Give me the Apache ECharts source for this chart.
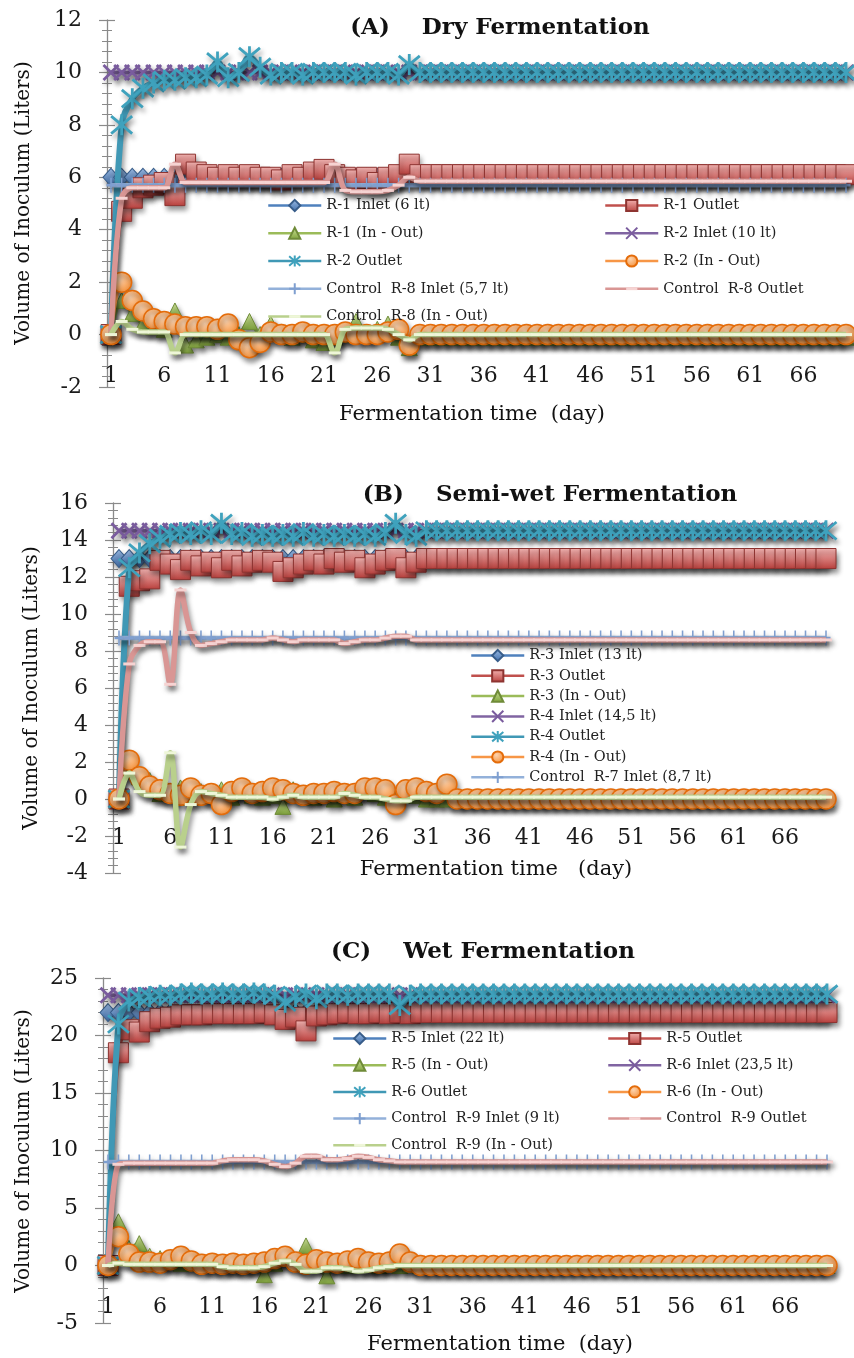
<!DOCTYPE html>
<html><head><meta charset="utf-8">
<script src="https://cdn.jsdelivr.net/npm/echarts@6/dist/echarts.min.js"></script>
<style>html,body{margin:0;padding:0;background:#fff}#c{width:854px;height:1358px}</style>
</head><body><div id="c"></div>
<script>
// ---------------- DATA ----------------
const days = [1,2,3,4,5,6,7,8,9,10,11,12,13,14,15,16,17,18,19,20,21,22,23,24,25,26,27,28,29,30,31,32,33,34,35,36,37,38,39,40,41,42,43,44,45,46,47,48,49,50,51,52,53,54,55,56,57,58,59,60,61,62,63,64,65,66,67,68,69,70];

// (A) Dry fermentation
const dryR1Inlet = [
6,6,6,6,6,6,6,6,6,6,
6,6,6,6,6,6,6,6,6,6,
6,6,6,6,6,6,6,6,6,6,
6,6,6,6,6,6,6,6,6,6,
6,6,6,6,6,6,6,6,6,6,
6,6,6,6,6,6,6,6,6,6,
6,6,6,6,6,6,6,6,6,6];
const dryR1Outlet = [
0,4.7,5.2,5.6,5.7,5.8,5.3,6.5,6.2,6.1,
6.0,6.1,6.0,6.1,6.0,6.0,5.9,6.1,6.0,6.2,
6.3,6.1,6.0,5.9,6.0,5.8,6.0,6.1,6.5,6.1,
6.1,6.1,6.1,6.1,6.1,6.1,6.1,6.1,6.1,6.1,
6.1,6.1,6.1,6.1,6.1,6.1,6.1,6.1,6.1,6.1,
6.1,6.1,6.1,6.1,6.1,6.1,6.1,6.1,6.1,6.1,
6.1,6.1,6.1,6.1,6.1,6.1,6.1,6.1,6.1,6.1];
const dryR1InOut = [
0,1.3,0.8,0.4,0.3,0.2,0.9,-0.4,-0.2,-0.1,
0,-0.1,0,0.5,0,0.4,0.1,-0.1,0,-0.2,
-0.3,-0.1,0,0.5,0,0.2,0.4,-0.1,-0.5,-0.1,
-0.1,-0.1,-0.1,-0.1,-0.1,-0.1,-0.1,-0.1,-0.1,-0.1,
-0.1,-0.1,-0.1,-0.1,-0.1,-0.1,-0.1,-0.1,-0.1,-0.1,
-0.1,-0.1,-0.1,-0.1,-0.1,-0.1,-0.1,-0.1,-0.1,-0.1,
-0.1,-0.1,-0.1,-0.1,-0.1,-0.1,-0.1,-0.1,-0.1,-0.1];
const dryR2Inlet = [
10,10,10,10,10,10,10,10,10,10,
10,10,10,10,10,10,10,10,10,10,
10,10,10,10,10,10,10,10,10,10,
10,10,10,10,10,10,10,10,10,10,
10,10,10,10,10,10,10,10,10,10,
10,10,10,10,10,10,10,10,10,10,
10,10,10,10,10,10,10,10,10,10];
const dryR2Outlet = [
0,8.0,9.0,9.4,9.6,9.7,9.7,9.8,9.8,9.9,
10.4,9.8,10.0,10.6,10.2,9.9,10.0,10.0,9.9,10.0,
10.0,10.0,10.0,9.9,10.0,10.0,10.0,9.9,10.3,10.0,
10,10,10,10,10,10,10,10,10,10,
10,10,10,10,10,10,10,10,10,10,
10,10,10,10,10,10,10,10,10,10,
10,10,10,10,10,10,10,10,10,10];
const dryR2InOut = [
0,2.0,1.3,0.9,0.6,0.5,0.4,0.3,0.3,0.3,
0.2,0.4,-0.2,-0.5,-0.3,0.1,0,0,0.1,0,
0,0,0.1,0,0,0,0.1,0.2,-0.4,0,
0,0,0,0,0,0,0,0,0,0,
0,0,0,0,0,0,0,0,0,0,
0,0,0,0,0,0,0,0,0,0,
0,0,0,0,0,0,0,0,0,0];
const dryC8Inlet = [
5.7,5.7,5.7,5.7,5.7,5.7,5.7,5.7,5.7,5.7,
5.7,5.7,5.7,5.7,5.7,5.7,5.7,5.7,5.7,5.7,
5.7,5.7,5.7,5.7,5.7,5.7,5.7,5.7,5.7,5.7,
5.7,5.7,5.7,5.7,5.7,5.7,5.7,5.7,5.7,5.7,
5.7,5.7,5.7,5.7,5.7,5.7,5.7,5.7,5.7,5.7,
5.7,5.7,5.7,5.7,5.7,5.7,5.7,5.7,5.7,5.7,
5.7,5.7,5.7,5.7,5.7,5.7,5.7,5.7,5.7,5.7];
const dryC8Outlet = [
0,5.2,5.6,5.6,5.6,5.6,6.5,5.8,5.8,5.8,
5.8,5.8,5.8,5.8,5.8,5.8,5.8,5.8,5.8,5.8,
5.8,6.5,5.5,5.45,5.45,5.45,5.5,5.7,6.0,5.85,
5.85,5.85,5.85,5.85,5.85,5.85,5.85,5.85,5.85,5.85,
5.85,5.85,5.85,5.85,5.85,5.85,5.85,5.85,5.85,5.85,
5.85,5.85,5.85,5.85,5.85,5.85,5.85,5.85,5.85,5.85,
5.85,5.85,5.85,5.85,5.85,5.85,5.85,5.85,5.85,5.85];
const dryC8InOut = [
0,0.5,0.2,0.1,0.1,0.1,-0.7,0,0,0,
0,0,0,0,0,0,0,0,0,0,
0,-0.7,0.2,0.25,0.25,0.25,0.2,0,-0.2,0,
0,0,0,0,0,0,0,0,0,0,
0,0,0,0,0,0,0,0,0,0,
0,0,0,0,0,0,0,0,0,0,
0,0,0,0,0,0,0,0,0,0];

// (B) Semi-wet fermentation
const semiR3Inlet = [
13,13,13,13,13,13,13,13,13,13,
13,13,13,13,13,13,13,13,13,13,
13,13,13,13,13,13,13,13,13,13,
13,13,13,13,13,13,13,13,13,13,
13,13,13,13,13,13,13,13,13,13,
13,13,13,13,13,13,13,13,13,13,
13,13,13,13,13,13,13,13,13,13];
const semiR3Outlet = [
0,11.5,11.8,11.9,12.9,12.7,12.4,12.9,12.6,12.8,
12.5,12.9,12.6,12.8,12.9,12.8,12.3,12.5,12.7,12.9,
12.7,13.0,12.8,12.9,12.5,12.7,12.9,13.0,12.5,12.8,
13,13,13,13,13,13,13,13,13,13,
13,13,13,13,13,13,13,13,13,13,
13,13,13,13,13,13,13,13,13,13,
13,13,13,13,13,13,13,13,13,13];
const semiR3InOut = [
0,1.5,1.2,1.0,0.3,0.3,0.6,0.1,0.4,0.2,
0.5,0.1,0.4,0.2,0.1,0.2,-0.4,0.5,0.3,0.1,
0.3,0,0.2,0.1,0.5,0.3,0.1,0,0.5,0.2,
0,0,0,0,0,0,0,0,0,0,
0,0,0,0,0,0,0,0,0,0,
0,0,0,0,0,0,0,0,0,0,
0,0,0,0,0,0,0,0,0,0];
const semiR4Inlet = [
14.5,14.5,14.5,14.5,14.5,14.5,14.5,14.5,14.5,14.5,
14.5,14.5,14.5,14.5,14.5,14.5,14.5,14.5,14.5,14.5,
14.5,14.5,14.5,14.5,14.5,14.5,14.5,14.5,14.5,14.5,
14.5,14.5,14.5,14.5,14.5,14.5,14.5,14.5,14.5,14.5,
14.5,14.5,14.5,14.5,14.5,14.5,14.5,14.5,14.5,14.5,
14.5,14.5,14.5,14.5,14.5,14.5,14.5,14.5,14.5,14.5,
14.5,14.5,14.5,14.5,14.5,14.5,14.5,14.5,14.5,14.5];
const semiR4Outlet = [
0,12.5,13.3,13.8,14.1,14.3,14.4,14.3,14.5,14.3,
14.9,14.3,14.4,14.2,14.3,14.2,14.3,14.2,14.4,14.2,
14.3,14.2,14.3,14.2,14.3,14.2,14.4,14.9,14.3,14.2,
14.5,14.5,14.5,14.5,14.5,14.5,14.5,14.5,14.5,14.5,
14.5,14.5,14.5,14.5,14.5,14.5,14.5,14.5,14.5,14.5,
14.5,14.5,14.5,14.5,14.5,14.5,14.5,14.5,14.5,14.5,
14.5,14.5,14.5,14.5,14.5,14.5,14.5,14.5,14.5,14.5];
const semiR4InOut = [
0,2.1,1.2,0.7,0.5,0.3,0.2,0.6,0.2,0.3,
-0.3,0.4,0.6,0.3,0.4,0.6,0.5,0.3,0.2,0.3,
0.3,0.4,0.3,0.3,0.6,0.6,0.5,-0.3,0.5,0.6,
0.4,0.3,0.8,0,0,0,0,0,0,0,
0,0,0,0,0,0,0,0,0,0,
0,0,0,0,0,0,0,0,0,0,
0,0,0,0,0,0,0,0,0,0];
const semiC7Inlet = [
8.7,8.7,8.7,8.7,8.7,8.7,8.7,8.7,8.7,8.7,
8.7,8.7,8.7,8.7,8.7,8.7,8.7,8.7,8.7,8.7,
8.7,8.7,8.7,8.7,8.7,8.7,8.7,8.7,8.7,8.7,
8.7,8.7,8.7,8.7,8.7,8.7,8.7,8.7,8.7,8.7,
8.7,8.7,8.7,8.7,8.7,8.7,8.7,8.7,8.7,8.7,
8.7,8.7,8.7,8.7,8.7,8.7,8.7,8.7,8.7,8.7,
8.7,8.7,8.7,8.7,8.7,8.7,8.7,8.7,8.7,8.7];
const semiC7Outlet = [
0,7.3,8.3,8.5,8.5,6.2,11.3,9.0,8.3,8.4,
8.5,8.6,8.6,8.6,8.6,8.7,8.6,8.5,8.6,8.6,
8.6,8.6,8.4,8.5,8.6,8.6,8.7,8.8,8.8,8.6,
8.6,8.6,8.6,8.6,8.6,8.6,8.6,8.6,8.6,8.6,
8.6,8.6,8.6,8.6,8.6,8.6,8.6,8.6,8.6,8.6,
8.6,8.6,8.6,8.6,8.6,8.6,8.6,8.6,8.6,8.6,
8.6,8.6,8.6,8.6,8.6,8.6,8.6,8.6,8.6,8.6];
const semiC7InOut = [
0,1.4,0.4,0.2,0.2,2.5,-2.6,-0.3,0.4,0.3,
0.2,0.1,0.1,0.1,0.1,0,0.1,0.2,0.1,0.1,
0.1,0.1,0.3,0.2,0.1,0.1,0,-0.1,-0.1,0.1,
0.1,0.1,0.1,0.1,0.1,0.1,0.1,0.1,0.1,0.1,
0.1,0.1,0.1,0.1,0.1,0.1,0.1,0.1,0.1,0.1,
0.1,0.1,0.1,0.1,0.1,0.1,0.1,0.1,0.1,0.1,
0.1,0.1,0.1,0.1,0.1,0.1,0.1,0.1,0.1,0.1];

// (C) Wet fermentation
const wetR5Inlet = [
22,22,22,22,22,22,22,22,22,22,
22,22,22,22,22,22,22,22,22,22,
22,22,22,22,22,22,22,22,22,22,
22,22,22,22,22,22,22,22,22,22,
22,22,22,22,22,22,22,22,22,22,
22,22,22,22,22,22,22,22,22,22,
22,22,22,22,22,22,22,22,22,22];
const wetR5Outlet = [
0,18.5,20.5,20.3,21.2,21.5,21.6,21.8,21.8,21.8,
21.9,21.9,21.9,21.9,21.9,22.0,21.8,21.4,21.6,20.4,
21.7,21.8,21.9,22.0,21.9,21.9,22.0,21.9,22.0,21.9,
22,22,22,22,22,22,22,22,22,22,
22,22,22,22,22,22,22,22,22,22,
22,22,22,22,22,22,22,22,22,22,
22,22,22,22,22,22,22,22,22,22];
const wetR5InOut = [
0,3.8,1.5,1.9,0.8,0.6,0.4,0.2,0.2,0.2,
0.1,0.1,0.1,0.1,0.1,-0.8,0.2,0.6,0.4,1.7,
0.3,-0.9,0.1,0,0.1,0.1,0,0.1,0,0.1,
0,0,0,0,0,0,0,0,0,0,
0,0,0,0,0,0,0,0,0,0,
0,0,0,0,0,0,0,0,0,0,
0,0,0,0,0,0,0,0,0,0];
const wetR6Inlet = [
23.5,23.5,23.5,23.5,23.5,23.5,23.5,23.5,23.5,23.5,
23.5,23.5,23.5,23.5,23.5,23.5,23.5,23.5,23.5,23.5,
23.5,23.5,23.5,23.5,23.5,23.5,23.5,23.5,23.5,23.5,
23.5,23.5,23.5,23.5,23.5,23.5,23.5,23.5,23.5,23.5,
23.5,23.5,23.5,23.5,23.5,23.5,23.5,23.5,23.5,23.5,
23.5,23.5,23.5,23.5,23.5,23.5,23.5,23.5,23.5,23.5,
23.5,23.5,23.5,23.5,23.5,23.5,23.5,23.5,23.5,23.5];
const wetR6Outlet = [
0,21.0,23.0,23.3,23.4,23.5,23.5,23.6,23.7,23.6,
23.6,23.7,23.6,23.6,23.7,23.6,23.5,22.9,23.4,23.6,
23.2,23.6,23.6,23.5,23.6,23.6,23.6,23.6,22.6,23.5,
23.6,23.6,23.6,23.6,23.6,23.6,23.6,23.6,23.6,23.6,
23.6,23.6,23.6,23.6,23.6,23.6,23.6,23.6,23.6,23.6,
23.6,23.6,23.6,23.6,23.6,23.6,23.6,23.6,23.6,23.6,
23.6,23.6,23.6,23.6,23.6,23.6,23.6,23.6,23.6,23.6];
const wetR6InOut = [
0,2.5,1.0,0.3,0.3,0.2,0.5,0.8,0.4,0.1,
0.2,0.1,0.2,0.1,0.2,0.3,0.6,0.8,0.3,0.1,
0.5,0.3,0.2,0.4,0.6,0.3,0.2,0.3,1.0,0.3,
0,0,0,0,0,0,0,0,0,0,
0,0,0,0,0,0,0,0,0,0,
0,0,0,0,0,0,0,0,0,0,
0,0,0,0,0,0,0,0,0,0];
const wetC9Inlet = [
9,9,9,9,9,9,9,9,9,9,
9,9,9,9,9,9,9,9,9,9,
9,9,9,9,9,9,9,9,9,9,
9,9,9,9,9,9,9,9,9,9,
9,9,9,9,9,9,9,9,9,9,
9,9,9,9,9,9,9,9,9,9,
9,9,9,9,9,9,9,9,9,9];
const wetC9Outlet = [
0,8.8,8.9,8.9,8.9,8.9,8.9,8.9,8.9,8.9,
8.9,9.1,9.2,9.2,9.2,9.1,8.8,8.6,8.9,9.5,
9.5,9.2,9.2,9.3,9.5,9.4,9.2,9.1,9.0,9.0,
9,9,9,9,9,9,9,9,9,9,
9,9,9,9,9,9,9,9,9,9,
9,9,9,9,9,9,9,9,9,9,
9,9,9,9,9,9,9,9,9,9];
const wetC9InOut = [
0,0.2,0.1,0.1,0.1,0.1,0.1,0.1,0.1,0.1,
0.1,-0.1,-0.2,-0.2,-0.2,-0.1,0.2,0.4,0.1,-0.5,
-0.5,-0.2,-0.2,-0.3,-0.5,-0.4,-0.2,-0.1,0,0,
0,0,0,0,0,0,0,0,0,0,
0,0,0,0,0,0,0,0,0,0,
0,0,0,0,0,0,0,0,0,0,
0,0,0,0,0,0,0,0,0,0];

// axis ranges [min, max, interval]
const yRangeA = [-2, 12, 2];
const yRangeB = [-4, 16, 2];
const yRangeC = [-5, 25, 5];

// ---------------- STYLES ----------------
const FONT = 'DejaVu Serif';
const SH = {shadowColor:'rgba(0,0,0,0.42)', shadowBlur:5, shadowOffsetX:2, shadowOffsetY:4};
function lin(a,b){return {type:'linear',x:0,y:0,x2:0,y2:1,colorStops:[{offset:0,color:a},{offset:1,color:b}]};}
function rad(a,b){return {type:'radial',x:0.4,y:0.35,r:0.75,colorStops:[{offset:0,color:a},{offset:1,color:b}]};}
const P_X = 'path://M0,0L10,10M10,0L0,10';
const P_AST = 'path://M0,0L10,10M10,0L0,10M5,-1L5,11';
const P_PLUS = 'path://M0,0M10,14M5,0L5,14M0,7L10,7';
const P_DASH = 'path://M0,0M20,20M0,7.5L20,7.5L20,12.5L0,12.5Z';
const ROLE = {
  in:   {symbol:'diamond', size:[16,18], item:{color:lin('#9DBDE6','#3E6DAA'),borderColor:'#385D8A',borderWidth:1}, line:{color:'#4F81BD',width:3.5}},
  out:  {symbol:'rect', size:20, item:{color:lin('#F6B7B5','#B9403D'),borderColor:'#8E3431',borderWidth:1}, line:{color:'#C0504D',width:3.5}},
  io:   {symbol:'triangle', size:16, item:{color:lin('#CDE39A','#7FA33B'),borderColor:'#6F8B38',borderWidth:1}, line:{color:'#9BBB59',width:3.5}},
  in2:  {symbol:P_X, size:15, item:{color:'#8064A2',borderColor:'#7A5C9E',borderWidth:2.8}, line:{color:'#8064A2',width:4}},
  out2: {symbol:P_AST, size:21, item:{color:'#4BACC6',borderColor:'#3FA2BD',borderWidth:2.8}, line:{color:'#4098B5',width:6}},
  io2:  {symbol:'circle', size:20, item:{color:rad('#FDD3AE','#F38A2E'),borderColor:'#E46C0A',borderWidth:1.5}, line:{color:'#F79646',width:3.5}},
  cin:  {symbol:P_PLUS, size:[9,15], item:{color:'#7F9FD0',borderColor:'#7F9FD0',borderWidth:2}, line:{color:'#93B1DA',width:4.5}},
  cout: {symbol:P_DASH, size:12, item:{color:'#F6D3D2',borderWidth:0}, line:{color:'#D99694',width:5.5}},
  cio:  {symbol:P_DASH, size:12, item:{color:'#EEF6D8',borderWidth:0}, line:{color:'#B9D08C',width:5.5}}
};

const panels = [
  {y:yRangeA, grid:{left:111,right:8,top:20,height:367}, axisOff:4, labelMargin:-22,
   series:[['R-1 Inlet (6 lt)',dryR1Inlet,'in'],['R-1 Outlet',dryR1Outlet,'out'],['R-1 (In - Out)',dryR1InOut,'io'],
           ['R-2 Inlet (10 lt)',dryR2Inlet,'in2'],['R-2 Outlet',dryR2Outlet,'out2'],['R-2 (In - Out)',dryR2InOut,'io2'],
           ['Control  R-8 Inlet (5,7 lt)',dryC8Inlet,'cin'],['Control  R-8 Outlet',dryC8Outlet,'cout'],['Control  R-8 (In - Out)',dryC8InOut,'cio']]},
  {y:yRangeB, grid:{left:119,right:28,top:503,height:370}, axisOff:6, labelMargin:-46,
   series:[['R-3 Inlet (13 lt)',semiR3Inlet,'in'],['R-3 Outlet',semiR3Outlet,'out'],['R-3 (In - Out)',semiR3InOut,'io'],
           ['R-4 Inlet (14,5 lt)',semiR4Inlet,'in2'],['R-4 Outlet',semiR4Outlet,'out2'],['R-4 (In - Out)',semiR4InOut,'io2'],
           ['Control  R-7 Inlet (8,7 lt)',semiC7Inlet,'cin'],['Control  R-7 Outlet',semiC7Outlet,'cout'],['Control  R-7 (In - Out)',semiC7InOut,'cio']]},
  {y:yRangeC, grid:{left:108,right:27,top:978,height:345}, axisOff:5, labelMargin:-27,
   series:[['R-5 Inlet (22 lt)',wetR5Inlet,'in'],['R-5 Outlet',wetR5Outlet,'out'],['R-5 (In - Out)',wetR5InOut,'io'],
           ['R-6 Inlet (23,5 lt)',wetR6Inlet,'in2'],['R-6 Outlet',wetR6Outlet,'out2'],['R-6 (In - Out)',wetR6InOut,'io2'],
           ['Control  R-9 Inlet (9 lt)',wetC9Inlet,'cin'],['Control  R-9 Outlet',wetC9Outlet,'cout'],['Control  R-9 (In - Out)',wetC9InOut,'cio']]}
];

panels.forEach(p=>p.series.forEach(s=>{ if(s[1].length!==70) throw new Error('bad length '+s[0]+' '+s[1].length); }));

const AX = '#8A8A8A';
const grids=[], xAxes=[], yAxes=[], series=[];
panels.forEach((p,g)=>{
  grids.push(Object.assign({outerBoundsMode:'none', containLabel:false}, p.grid));
  xAxes.push({type:'category', gridIndex:g, data:days, boundaryGap:false,
    axisLine:{show:false,onZero:false}, axisTick:{show:false}, splitLine:{show:false},
    axisLabel:{interval:4, margin:p.labelMargin, fontFamily:FONT, fontSize:22, color:'#1a1a1a'}});
  const base = {type:'value', gridIndex:g, min:p.y[0], max:p.y[1], interval:p.y[2], position:'left', offset:p.axisOff, splitLine:{show:false}};
  yAxes.push(Object.assign({}, base, {
    axisLine:{show:true, lineStyle:{color:AX, width:1.3}},
    axisTick:{show:true, length:8, lineStyle:{color:AX, width:1.2}},
    minorTick:{show:true, splitNumber:5, length:5, lineStyle:{color:AX, width:1}},
    axisLabel:{margin:25, fontFamily:FONT, fontSize:22, color:'#1a1a1a'}}));
  yAxes.push(Object.assign({}, base, {
    axisLine:{show:false},
    axisTick:{show:true, inside:true, length:8, lineStyle:{color:AX, width:1.2}},
    minorTick:{show:true, splitNumber:5, length:5, lineStyle:{color:AX, width:1}},
    axisLabel:{show:false}}));
  p.series.forEach((s,i)=>{
    const r = ROLE[s[2]];
    series.push({type:'line', name:s[0], data:s[1], xAxisIndex:g, yAxisIndex:2*g, z:3+i,
      smooth:0.35, showAllSymbol:true, clip:false, symbol:r.symbol, symbolSize:r.size,
      itemStyle:Object.assign({}, r.item, SH), lineStyle:Object.assign({}, r.line, SH),
      emphasis:{disabled:true}, animation:false});
  });
});

function legend(names, left, top, gap){
  return {data:names, orient:'vertical', left:left, top:top, itemGap:gap, itemWidth:53, itemHeight:14,
    padding:0, selectedMode:false, z:50, lineStyle:{width:2.5},
    textStyle:{fontFamily:FONT, fontSize:14.5, color:'#222', lineHeight:14}};
}
const legends = [
  legend(['R-1 Inlet (6 lt)','R-1 (In - Out)','R-2 Outlet','Control  R-8 Inlet (5,7 lt)','Control  R-8 (In - Out)'],267,198,12.75),
  legend(['R-1 Outlet','R-2 Inlet (10 lt)','R-2 (In - Out)','Control  R-8 Outlet'],604,198,12.75),
  legend(['R-3 Inlet (13 lt)','R-3 Outlet','R-3 (In - Out)','R-4 Inlet (14,5 lt)','R-4 Outlet','R-4 (In - Out)','Control  R-7 Inlet (8,7 lt)'],470,648,5.3),
  legend(['R-5 Inlet (22 lt)','R-5 (In - Out)','R-6 Outlet','Control  R-9 Inlet (9 lt)','Control  R-9 (In - Out)'],332,1031,11.7),
  legend(['R-5 Outlet','R-6 Inlet (23,5 lt)','R-6 (In - Out)','Control  R-9 Outlet'],607,1031,11.7)
];

function txt(t,x,y,font,rot){
  return {type:'text', x:x, y:y, rotation:rot||0, z:60,
    style:{text:t, font:font, fill:'#111', align:'center', verticalAlign:'middle'}};
}
const TF = 'bold 23px "DejaVu Serif"';
const AF = '21px "DejaVu Serif"';
const YF = '20px "DejaVu Serif"';
const graphics = [
  txt('(A)    Dry Fermentation',500,28,TF),
  txt('(B)    Semi-wet Fermentation',550,495,TF),
  txt('(C)    Wet Fermentation',483,952,TF),
  txt('Fermentation time  (day)',472,415,AF),
  txt('Fermentation time   (day)',496,870,AF),
  txt('Fermentation time  (day)',500,1345,AF),
  txt('Volume of Inoculum (Liters)',24,203,YF,Math.PI/2),
  txt('Volume of Inoculum (Liters)',32,688,YF,Math.PI/2),
  txt('Volume of Inoculum (Liters)',24,1151,YF,Math.PI/2)
];

const chart = echarts.init(document.getElementById('c'), null, {renderer:'canvas'});
chart.setOption({
  backgroundColor:'#ffffff', animation:false,
  grid:grids, xAxis:xAxes, yAxis:yAxes, series:series, legend:legends,
  graphic:{elements:graphics}
});
</script></body></html>
